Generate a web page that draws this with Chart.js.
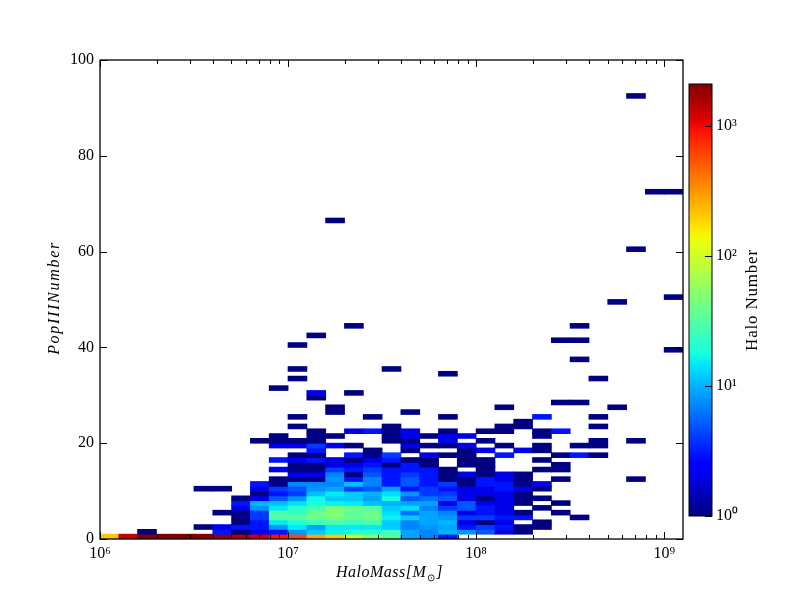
<!DOCTYPE html>
<html>
<head>
<meta charset="utf-8">
<script src="https://cdn.jsdelivr.net/npm/chart.js@4"></script>
<style>
  html, body { margin: 0; padding: 0; background: #fff; }
  #wrap { position: relative; width: 800px; height: 600px; }
  canvas { position: absolute; left: 0; top: 0; }
</style>
</head>
<body>
<div id="wrap">
  <canvas id="hist" width="800" height="600"></canvas>
  <canvas id="cbar" width="800" height="600"></canvas>
</div>
<script>
// bin edges of the mass axis, as powers of ten (31 bins)
const massEdges = [6.0, 6.1, 6.2, 6.3, 6.4, 6.5, 6.6, 6.7, 6.8, 6.9, 7.0, 7.1, 7.2, 7.3, 7.4, 7.5,
  7.6, 7.7, 7.8, 7.9, 8.0, 8.1, 8.2, 8.3, 8.4, 8.5, 8.6, 8.7, 8.8, 8.9, 9.0, 9.1];

// halo counts per mass bin, one list for each PopIII number from 0 up to 17
const row0 = [210, 1300, 2000, 2100, 2100, 2000, 1800, 1500, 1200, 900, 600, 280, 210, 100, 50, 35, 9, 7, 3, 0, 0, 0, 0, 0, 0, 0, 0, 0, 0, 0, 0];
const row1 = [0, 0, 1, 0, 0, 0, 3, 1, 2, 3, 8, 12, 16, 20, 22, 25, 9, 7, 10, 8, 5, 2, 1, 0, 0, 0, 0, 0, 0, 0, 0];
const row2 = [0, 0, 0, 0, 0, 1, 2, 3, 3, 8, 15, 9, 15, 15, 15, 12, 7, 8, 9, 3, 4, 3, 1, 1, 0, 0, 0, 0, 0, 0, 0];
const row3 = [0, 0, 0, 0, 0, 0, 0, 1, 3, 15, 18, 24, 28, 24, 28, 12, 7, 9, 10, 2, 1, 2, 0, 1, 0, 0, 0, 0, 0, 0, 0];
const row4 = [0, 0, 0, 0, 0, 0, 0, 1, 4, 30, 35, 40, 45, 38, 40, 16, 12, 9, 8, 4, 4, 3, 3, 0, 0, 1, 0, 0, 0, 0, 0];
const row5 = [0, 0, 0, 0, 0, 0, 1, 1, 4, 30, 24, 40, 50, 35, 40, 14, 6, 9, 7, 2, 3, 2, 1, 0, 1, 0, 0, 0, 0, 0, 0];
const row6 = [0, 0, 0, 0, 0, 0, 0, 2, 8, 15, 22, 28, 45, 38, 32, 12, 14, 7, 4, 5, 3, 2, 0, 1, 0, 0, 0, 0, 0, 0, 0];
const row7 = [0, 0, 0, 0, 0, 0, 0, 3, 10, 11, 14, 18, 16, 15, 11, 10, 9, 9, 2, 5, 2, 2, 1, 0, 1, 0, 0, 0, 0, 0, 0];
const row8 = [0, 0, 0, 0, 0, 0, 0, 1, 2, 5, 8, 17, 12, 12, 9, 18, 5, 6, 5, 2, 1, 2, 1, 1, 0, 0, 0, 0, 0, 0, 0];
const row9 = [0, 0, 0, 0, 0, 0, 0, 0, 1, 3, 4, 11, 15, 12, 10, 14, 8, 4, 4, 2, 2, 2, 1, 0, 0, 0, 0, 0, 0, 0, 0];
const row10 = [0, 0, 0, 0, 0, 1, 1, 0, 2, 4, 5, 8, 9, 4, 5, 9, 3, 4, 3, 2, 2, 3, 2, 1, 0, 0, 0, 0, 0, 0, 0];
const row11 = [0, 0, 0, 0, 0, 0, 0, 0, 3, 1, 7, 7, 7, 11, 7, 3, 5, 3, 4, 1, 3, 3, 1, 2, 0, 0, 0, 0, 0, 0, 0];
const row12 = [0, 0, 0, 0, 0, 0, 0, 0, 0, 1, 1, 1, 8, 3, 7, 3, 5, 3, 1, 1, 3, 2, 1, 0, 1, 0, 0, 0, 1, 0, 0];
const row13 = [0, 0, 0, 0, 0, 0, 0, 0, 0, 0, 2, 2, 7, 1, 5, 3, 4, 3, 1, 2, 1, 2, 1, 0, 0, 0, 0, 0, 0, 0, 0];
const row14 = [0, 0, 0, 0, 0, 0, 0, 0, 0, 2, 1, 1, 4, 3, 4, 3, 3, 3, 1, 0, 1, 0, 0, 1, 1, 0, 0, 0, 0, 0, 0];
const row15 = [0, 0, 0, 0, 0, 0, 0, 0, 0, 0, 1, 1, 2, 2, 3, 1, 3, 1, 0, 1, 1, 0, 0, 0, 1, 0, 0, 0, 0, 0, 0];
const row16 = [0, 0, 0, 0, 0, 0, 0, 0, 0, 3, 2, 3, 2, 1, 2, 3, 1, 1, 0, 1, 1, 0, 0, 1, 0, 0, 0, 0, 0, 0, 0];
const row17 = [0, 0, 0, 0, 0, 0, 0, 0, 0, 0, 1, 1, 0, 3, 1, 4, 0, 2, 1, 1, 0, 3, 0, 0, 1, 3, 1, 0, 0, 0, 0];
const denseRows = [row0, row1, row2, row3, row4, row5, row6, row7, row8, row9, row10, row11, row12, row13, row14, row15, row16, row17];

// the thin upper part, cell by cell
const sparseNumber = [18, 18, 18, 18, 18, 18, 18, 19, 19, 19, 19, 19, 19, 19, 19, 19, 19, 19, 19, 19,
  20, 20, 20, 20, 20, 20, 20, 20, 20, 20,
  21, 21, 21, 21, 21, 21, 21, 21, 21,
  22, 22, 22, 22, 22, 22, 22, 22, 22, 22,
  23, 23, 23, 23, 23, 24, 25, 25, 25, 25, 25, 26, 26, 27, 27, 27, 28, 28,
  29, 30, 30, 31, 33, 33, 34, 35, 35, 37, 39, 40, 41, 41, 42, 44, 44, 49, 50, 60, 66, 72, 72, 92];
const sparseBin = [11, 14, 16, 19, 20, 22, 23, 9, 10, 11, 12, 13, 16, 17, 18, 19, 21, 23, 25, 26,
  8, 9, 10, 11, 15, 16, 18, 20, 26, 28,
  9, 11, 12, 15, 16, 17, 18, 19, 23,
  11, 13, 14, 15, 16, 18, 20, 21, 23, 24,
  10, 15, 21, 22, 26, 22, 10, 14, 18, 23, 26, 12, 16, 12, 21, 27, 24, 25,
  11, 11, 13, 9, 10, 26, 18, 10, 15, 25, 30, 10, 24, 25, 11, 13, 25, 27, 30, 28, 12, 29, 30, 28];
const sparseCount = [3, 1, 1, 1, 2, 2, 1, 2, 2, 4, 2, 1, 2, 1, 1, 2, 1, 1, 1, 1,
  1, 1, 1, 1, 1, 1, 2, 1, 1, 1,
  1, 1, 1, 1, 2, 1, 2, 2, 1,
  1, 2, 3, 1, 2, 1, 1, 1, 1, 3,
  1, 1, 1, 1, 1, 1, 1, 1, 1, 3, 1, 1, 1, 1, 1, 1, 1, 1,
  1, 2, 1, 1, 1, 1, 1, 1, 1, 1, 1, 1, 1, 1, 1, 1, 1, 1, 1, 1, 1, 1, 1, 1];

const xMajorTicks = [1e6, 1e7, 1e8, 1e9];
const xMinorTicks = [2e6, 3e6, 4e6, 5e6, 6e6, 7e6, 8e6, 9e6, 2e7, 3e7, 4e7, 5e7, 6e7, 7e7, 8e7, 9e7,
  2e8, 3e8, 4e8, 5e8, 6e8, 7e8, 8e8, 9e8];
const xTickLabels = ['10⁶', '10⁷', '10⁸', '10⁹'];
const cbTicks = [1, 10, 100, 1000];
const cbTickLabels = ['10⁰', '10¹', '10²', '10³'];
const cbMin = 1;
const cbMax = 2100;

const serif = '"Liberation Serif", serif';

// matplotlib jet segments
const jetR = [[0, 0], [0.35, 0], [0.66, 1], [0.89, 1], [1, 0.5]];
const jetG = [[0, 0], [0.125, 0], [0.375, 1], [0.64, 1], [0.91, 0], [1, 0]];
const jetB = [[0, 0.5], [0.11, 1], [0.34, 1], [0.65, 0], [1, 0]];

function segment(seg, t) {
  for (let i = 1; i < seg.length; i++) {
    if (t <= seg[i][0]) {
      const f = (t - seg[i - 1][0]) / (seg[i][0] - seg[i - 1][0]);
      return seg[i - 1][1] + f * (seg[i][1] - seg[i - 1][1]);
    }
  }
  return seg[seg.length - 1][1];
}

function jet(t) {
  t = Math.min(1, Math.max(0, t));
  const c = [jetR, jetG, jetB].map(s => Math.round(segment(s, t) * 255));
  return `rgb(${c[0]},${c[1]},${c[2]})`;
}

function countColor(n) {
  return jet(Math.log10(n) / Math.log10(cbMax));
}

function addCell(cells, colors, number, bin, count) {
  if (!count) return;
  cells.push({ y: number + 0.5, x: [Math.pow(10, massEdges[bin]), Math.pow(10, massEdges[bin + 1])] });
  colors.push(countColor(count));
}

const cells = [];
const colors = [];
denseRows.forEach((row, number) => row.forEach((count, bin) => addCell(cells, colors, number, bin, count)));
sparseNumber.forEach((number, i) => addCell(cells, colors, number, sparseBin[i], sparseCount[i]));

function tickLine(ctx, x1, y1, x2, y2) {
  ctx.beginPath();
  ctx.moveTo(x1, y1);
  ctx.lineTo(x2, y2);
  ctx.stroke();
}

// frame and inward ticks on all four sides, as the axes have no grid
const histFrame = {
  id: 'histFrame',
  afterDatasetsDraw(chart) {
    const { ctx, chartArea: a, scales } = chart;
    ctx.save();
    ctx.strokeStyle = '#000';
    ctx.lineWidth = 1;
    xMajorTicks.forEach(v => {
      const x = Math.round(scales.x.getPixelForValue(v)) + 0.5;
      tickLine(ctx, x, a.bottom, x, a.bottom - 7);
      tickLine(ctx, x, a.top, x, a.top + 7);
    });
    xMinorTicks.forEach(v => {
      const x = Math.round(scales.x.getPixelForValue(v)) + 0.5;
      tickLine(ctx, x, a.bottom, x, a.bottom - 4);
      tickLine(ctx, x, a.top, x, a.top + 4);
    });
    scales.y.ticks.forEach(t => {
      const y = Math.round(scales.y.getPixelForValue(t.value)) + 0.5;
      tickLine(ctx, a.left, y, a.left + 7, y);
      tickLine(ctx, a.right, y, a.right - 7, y);
    });
    ctx.lineWidth = 1.3;
    ctx.strokeRect(a.left, a.top, a.right - a.left, a.bottom - a.top);

    // axis labels by hand: they need wider spacing and a subscript
    ctx.fillStyle = '#000';
    ctx.textBaseline = 'alphabetic';
    ctx.font = 'italic 16px ' + serif;
    ctx.letterSpacing = '0.5px';
    ctx.textAlign = 'left';
    ctx.fillText('HaloMass[M', 336, 577);
    let x = 336 + ctx.measureText('HaloMass[M').width;
    ctx.font = '10px ' + serif;
    ctx.letterSpacing = '0px';
    ctx.fillText('⊙', x + 1, 581);
    x += ctx.measureText('⊙').width + 2;
    ctx.font = 'italic 16px ' + serif;
    ctx.fillText(']', x, 577);

    ctx.translate(59, 298);
    ctx.rotate(-Math.PI / 2);
    ctx.textAlign = 'center';
    ctx.letterSpacing = '1.7px';
    ctx.fillText('PopIIINumber', 0, 0);
    ctx.restore();
  }
};

new Chart(document.getElementById('hist'), {
  type: 'bar',
  data: {
    datasets: [{
      data: cells,
      backgroundColor: colors,
      borderWidth: 0,
      barPercentage: 1,
      categoryPercentage: 1,
      inflateAmount: 0.4
    }]
  },
  options: {
    indexAxis: 'y',
    responsive: false,
    animation: false,
    layout: { padding: { left: 0, top: 60, right: 117, bottom: 0 } },
    plugins: { legend: { display: false }, tooltip: { enabled: false } },
    scales: {
      x: {
        type: 'logarithmic',
        min: 1e6,
        max: Math.pow(10, 9.1),
        grid: { display: false, drawTicks: false },
        border: { display: false },
        afterBuildTicks: s => { s.ticks = xMajorTicks.map(v => ({ value: v, major: true })); },
        afterFit: s => { s.height = 61; },
        ticks: {
          autoSkip: false,
          maxRotation: 0,
          padding: 5,
          color: '#000',
          font: { family: serif, size: 16 },
          callback: v => xTickLabels[xMajorTicks.indexOf(v)]
        }
      },
      y: {
        type: 'linear',
        offset: false,
        min: 0,
        max: 100,
        grid: { display: false, drawTicks: false, offset: false },
        border: { display: false },
        afterFit: s => { s.width = 100; },
        ticks: {
          stepSize: 20,
          padding: 6,
          color: '#000',
          font: { family: serif, size: 16 }
        }
      }
    }
  },
  plugins: [histFrame]
});

function cbGradient(context) {
  const { ctx, chartArea } = context.chart;
  if (!chartArea) return '#000';
  const g = ctx.createLinearGradient(0, chartArea.bottom, 0, chartArea.top);
  for (let i = 0; i <= 64; i++) g.addColorStop(i / 64, jet(i / 64));
  return g;
}

const cbFrame = {
  id: 'cbFrame',
  afterDatasetsDraw(chart) {
    const { ctx, chartArea: a, scales } = chart;
    ctx.save();
    ctx.strokeStyle = '#000';
    ctx.lineWidth = 1;
    cbTicks.forEach(v => {
      const y = Math.round(scales.y.getPixelForValue(v)) + 0.5;
      tickLine(ctx, a.right, y, a.right - 7, y);
    });
    ctx.strokeRect(a.left, a.top, a.right - a.left, a.bottom - a.top);
    // label reads upwards, the axis title option would turn it the other way
    ctx.fillStyle = '#000';
    ctx.font = '17px ' + serif;
    ctx.letterSpacing = '0.8px';
    ctx.textAlign = 'center';
    ctx.textBaseline = 'middle';
    ctx.translate(753, 300);
    ctx.rotate(-Math.PI / 2);
    ctx.fillText('Halo Number', 0, 0);
    ctx.restore();
  }
};

new Chart(document.getElementById('cbar'), {
  type: 'bar',
  data: {
    labels: ['Halo Number'],
    datasets: [{
      data: [[cbMin, cbMax]],
      backgroundColor: cbGradient,
      borderWidth: 0,
      barPercentage: 1,
      categoryPercentage: 1
    }]
  },
  options: {
    responsive: false,
    animation: false,
    layout: { padding: { left: 689, top: 84, right: 0, bottom: 84 } },
    plugins: { legend: { display: false }, tooltip: { enabled: false } },
    scales: {
      x: { display: false },
      y: {
        type: 'logarithmic',
        position: 'right',
        min: cbMin,
        max: cbMax,
        grid: { display: false, drawTicks: false },
        border: { display: false },
        afterBuildTicks: s => { s.ticks = cbTicks.map(v => ({ value: v, major: true })); },
        afterFit: s => { s.width = 88; },
        ticks: {
          autoSkip: false,
          padding: 4,
          color: '#000',
          font: { family: serif, size: 16 },
          callback: v => cbTickLabels[cbTicks.indexOf(v)]
        }
      }
    }
  },
  plugins: [cbFrame]
});
</script>
</body>
</html>
